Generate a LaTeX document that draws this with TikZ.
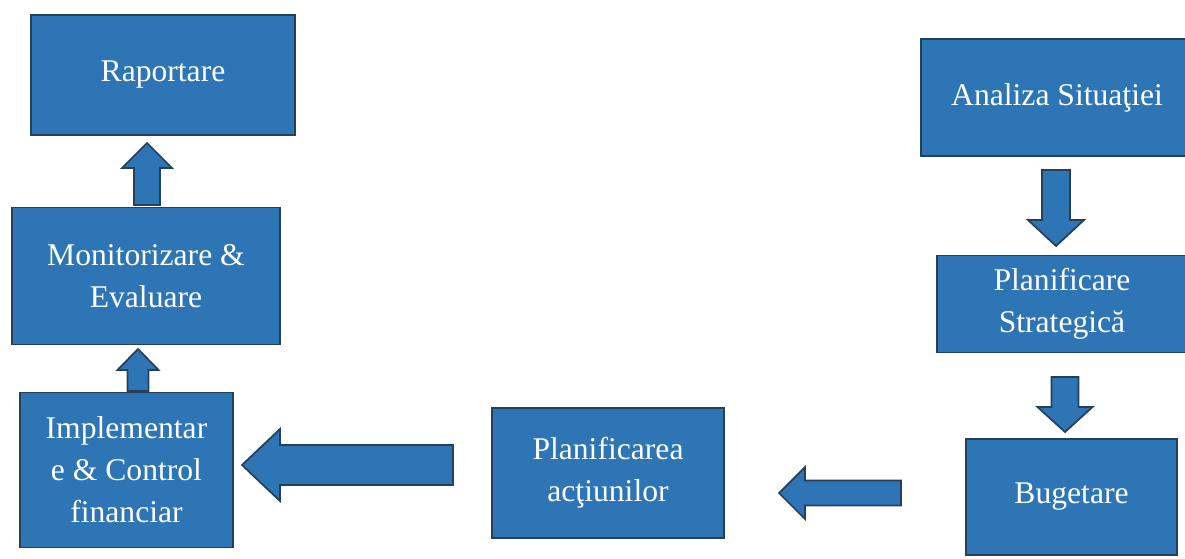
\documentclass[tikz,border=0pt]{standalone}
\usepackage{fontspec}
\setmainfont{Liberation Serif}
\usetikzlibrary{calc}
\definecolor{boxblue}{RGB}{46,117,182}
\definecolor{boxedge}{RGB}{38,64,92}
% #1 start, #2 tip, #3 head length, #4 shaft half width, #5 head half width
\newcommand{\blockarrow}[5]{%
  \coordinate (ba-h) at ($(#2)!#3!(#1)$);
  \filldraw[blockarr] ($(#1)!#4!90:(#2)$) -- ($(ba-h)!#4!90:(#2)$) -- ($(ba-h)!#5!90:(#2)$) -- (#2)
    -- ($(ba-h)!#5!-90:(#2)$) -- ($(ba-h)!#4!-90:(#2)$) -- ($(#1)!#4!-90:(#2)$) -- cycle;}
\tikzset{
  stepbox/.style={draw=boxedge, line width=1.1pt, fill=boxblue, text=white,
    align=center, inner sep=0pt, font=\fontsize{18}{24}\selectfont},
  blockarr/.style={draw=boxedge, line width=1pt, fill=boxblue, line join=miter}
}
\begin{document}
\begin{tikzpicture}[x=0.02cm, y=-0.02cm]
\useasboundingbox (0,0) rectangle (1185,558);
\node[stepbox, minimum width=5.28cm, minimum height=2.4cm] (rap) at (163,75) {Raportare};
\node[stepbox, minimum width=5.36cm, minimum height=2.74cm] (mon) at (146,276) {Monitorizare \&\\Evaluare};
\node[stepbox, minimum width=4.26cm, minimum height=3.1cm] (imp) at (126.5,470) {Implementar\\e \& Control\\financiar};
\node[stepbox, minimum width=4.64cm, minimum height=2.6cm] (act) at (608,473) {Planificarea\\acţiunilor};
\node[stepbox, minimum width=4.22cm, minimum height=2.32cm] (bug) at (1071.5,497) {Bugetare};
\node[stepbox, minimum width=5.0cm, minimum height=1.94cm] (str) at (1062,304) {Planificare\\Strategică};
\node[stepbox, minimum width=5.44cm, minimum height=2.34cm] (ana) at (1057,97.5) {Analiza Situaţiei};

\coordinate (a1s) at (147,205); \coordinate (a1e) at (147,143);
\coordinate (a2s) at (138,391); \coordinate (a2e) at (138,349);
\coordinate (a3s) at (453,465); \coordinate (a3e) at (242,465);
\coordinate (a4s) at (901,493); \coordinate (a4e) at (779,493);
\coordinate (a5s) at (1056,170); \coordinate (a5e) at (1056,246);
\coordinate (a6s) at (1065,377); \coordinate (a6e) at (1065,432);

\blockarrow{a1s}{a1e}{0.5cm}{0.26cm}{0.5cm}
\blockarrow{a2s}{a2e}{0.42cm}{0.21cm}{0.41cm}
\blockarrow{a3s}{a3e}{0.76cm}{0.4cm}{0.72cm}
\blockarrow{a4s}{a4e}{0.52cm}{0.25cm}{0.52cm}
\blockarrow{a5s}{a5e}{0.52cm}{0.28cm}{0.56cm}
\blockarrow{a6s}{a6e}{0.5cm}{0.27cm}{0.55cm}
\end{tikzpicture}
\end{document}
